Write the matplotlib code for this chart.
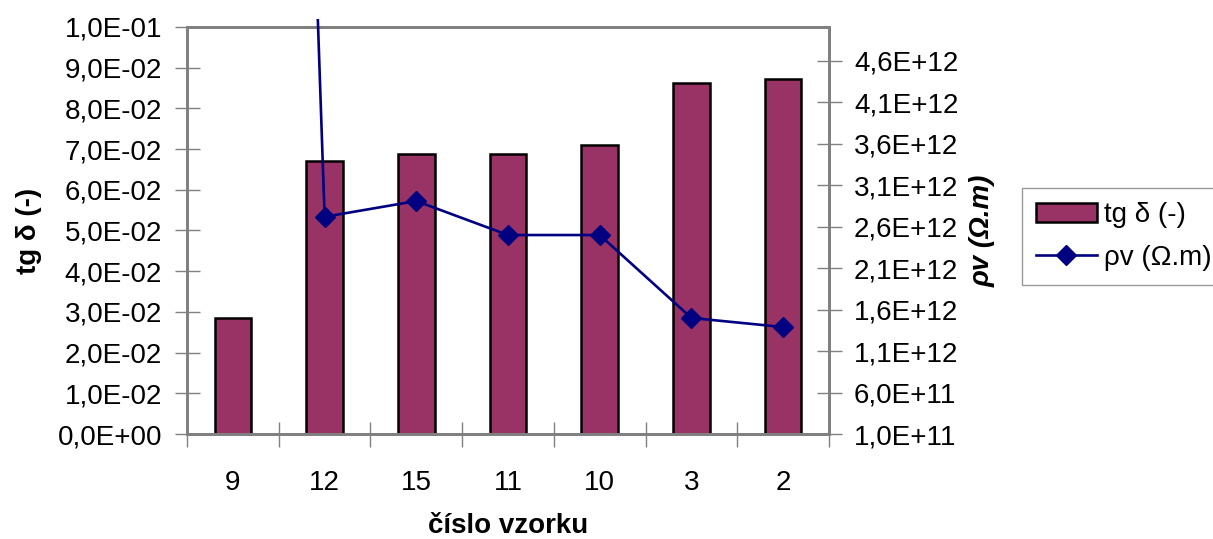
import numpy as np
import matplotlib
matplotlib.use('Agg')
import matplotlib.pyplot as plt
from matplotlib.ticker import FuncFormatter, FixedLocator
from matplotlib.transforms import Bbox, TransformedBbox
from matplotlib.patches import Patch
from matplotlib.lines import Line2D

plt.rcParams['font.family'] = ['Liberation Sans', 'DejaVu Sans']

# Data
samples = ['9', '12', '15', '11', '10', '3', '2']
tg_delta = [0.0285, 0.0671, 0.0688, 0.0688, 0.0709, 0.0862, 0.0873]
rho_v = [3.5e13, 2.72e12, 2.91e12, 2.5e12, 2.5e12, 1.5e12, 1.39e12]

bar_color = '#993366'
line_color = '#000080'
axis_gray = '#808080'
fs = 20

def sci_comma(v, pos):
    return f"{v:.1E}".replace('.', ',')

fig = plt.figure(figsize=(12.13, 5.39), dpi=100)
ax = fig.add_axes([0.1542, 0.1948, 0.5292, 0.7552])
ax2 = ax.twinx()

x = np.arange(len(samples))
ax.bar(x, tg_delta, width=0.4, color=bar_color, edgecolor='black', linewidth=1.8, zorder=2)
line, = ax2.plot(x, rho_v, color=line_color, lw=1.9, marker='D', ms=10, zorder=3)
line.set_clip_box(TransformedBbox(Bbox([[0, 0], [1, 1.02]]), ax2.transAxes))

ax.set_xlim(-0.5, len(samples) - 0.5)
ax.set_ylim(0, 0.1)
ax.set_yticks(np.arange(0, 0.1001, 0.01))
ax.yaxis.set_major_formatter(FuncFormatter(sci_comma))

ax2.set_ylim(1e11, 5.01e12)
ax2.set_yticks(np.arange(1e11, 4.7e12, 5e11))
ax2.yaxis.set_major_formatter(FuncFormatter(sci_comma))

# category labels at centres, tick marks at boundaries
ax.set_xticks(x)
ax.set_xticklabels(samples)
ax.xaxis.set_minor_locator(FixedLocator(np.arange(-0.5, len(samples), 1)))
ax.tick_params(axis='x', which='major', length=0, pad=26, labelsize=fs)
ax.tick_params(axis='x', which='minor', length=18, direction='inout', color=axis_gray, width=1)
ax.tick_params(axis='y', length=18, direction='inout', color=axis_gray, width=1, pad=9, labelsize=fs)
ax2.tick_params(axis='y', length=18, direction='inout', color=axis_gray, width=1, pad=9, labelsize=fs)

for a in (ax, ax2):
    for s in a.spines.values():
        s.set_color(axis_gray)
        s.set_linewidth(2)

ax.set_xlabel('číslo vzorku', fontsize=fs, fontweight='bold', labelpad=12)
ax.set_ylabel('tg δ (-)', fontsize=fs, fontweight='bold', labelpad=11)
ax2.set_ylabel('ρv (Ω.m)', fontsize=fs, fontweight='bold', style='italic', labelpad=8)

handles = [Patch(facecolor=bar_color, edgecolor='black', linewidth=1.8),
           Line2D([0], [0], color=line_color, lw=1.9, marker='D', ms=10)]
leg = fig.legend(handles, ['tg δ (-)', 'ρv (Ω.m)'], loc='upper left',
                 bbox_to_anchor=(0.8425, 0.651), borderaxespad=0, fontsize=fs,
                 frameon=True, fancybox=False, edgecolor=axis_gray, handlelength=2.2,
                 borderpad=0.5, labelspacing=0.6, handletextpad=0.25)
leg.get_frame().set_linewidth(1)

fig.savefig('out.png', dpi=100)
